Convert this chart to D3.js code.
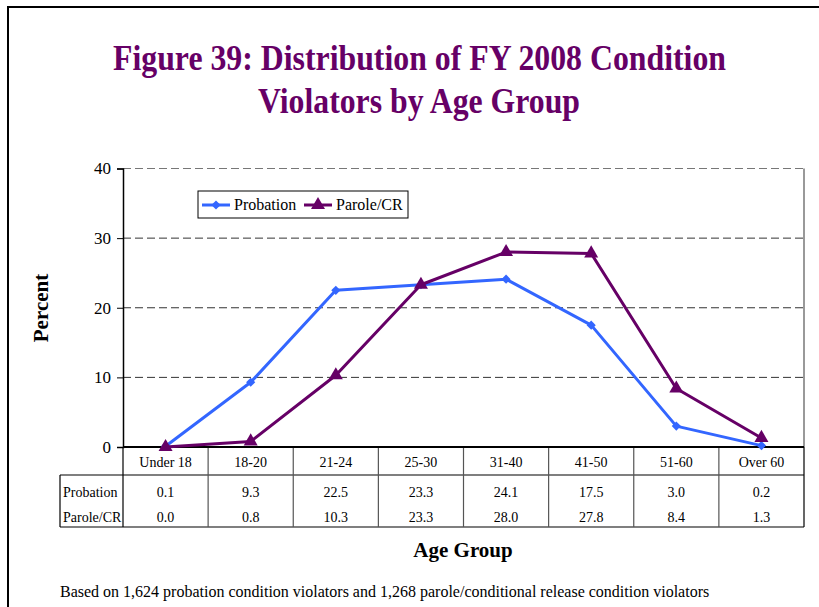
<!DOCTYPE html>
<html>
<head>
<meta charset="utf-8">
<script src="https://cdn.jsdelivr.net/npm/d3@7"></script>
<style>
  body { margin: 0; background: #fff; }
  svg { display: block; font-family: "Liberation Serif", "Times New Roman", serif; }
  svg text { font-family: "Liberation Serif", "Times New Roman", serif; }
</style>
</head>
<body>
<script>
// chart data
var ageGroups = ["Under 18", "18-20", "21-24", "25-30", "31-40", "41-50", "51-60", "Over 60"];
var probation = [0.1, 9.3, 22.5, 23.3, 24.1, 17.5, 3.0, 0.2];
var paroleCR = [0.0, 0.8, 10.3, 23.3, 28.0, 27.8, 8.4, 1.3];
var yTicks = [0, 10, 20, 30, 40];
var seriesNames = ["Probation", "Parole/CR"];

const W = 819, H = 607;
const plot = {left: 123, right: 804, top: 168.5, bottom: 447};
const purple = "#660066", blue = "#3366ff";

var svg = d3.select("body").append("svg")
    .attr("width", W)
    .attr("height", H);

// outer frame (runs off the right and bottom of the picture)
svg.append("rect")
    .attr("x", 8).attr("y", 7)
    .attr("width", 830).attr("height", 640)
    .attr("fill", "none")
    .attr("stroke", "#000")
    .attr("stroke-width", 2);

// title
var title = svg.append("g").attr("fill", purple).attr("font-weight", "bold")
    .attr("font-size", 35).attr("text-anchor", "middle");
title.append("text").attr("x", 419.5).attr("y", 70)
    .attr("textLength", 613).attr("lengthAdjust", "spacingAndGlyphs")
    .text("Figure 39: Distribution of FY 2008 Condition");
title.append("text").attr("x", 419).attr("y", 113)
    .attr("textLength", 322).attr("lengthAdjust", "spacingAndGlyphs")
    .text("Violators by Age Group");

var x = d3.scaleBand().domain(ageGroups).range([plot.left, plot.right]);
var y = d3.scaleLinear().domain([0, 40]).range([plot.bottom, plot.top]);

// gridlines
svg.append("g").selectAll("line")
    .data(yTicks.filter(function(d) { return d > 0; }))
    .enter().append("line")
    .attr("x1", plot.left).attr("x2", plot.right)
    .attr("y1", function(d) { return y(d); })
    .attr("y2", function(d) { return y(d); })
    .attr("stroke", function(d) { return d === 40 ? "#777" : "#333"; })
    .attr("stroke-width", 1)
    .attr("stroke-dasharray", "8,4");

// right border of plot
svg.append("line")
    .attr("x1", plot.right).attr("x2", plot.right)
    .attr("y1", plot.top).attr("y2", plot.bottom)
    .attr("stroke", "#777").attr("stroke-width", 1.5);

// y axis
var yAxis = svg.append("g")
    .attr("transform", "translate(" + plot.left + ",0)")
    .call(d3.axisLeft(y).tickValues(yTicks).tickSize(6).tickPadding(6).tickFormat(d3.format("d")));
yAxis.attr("font-family", null);
yAxis.select(".domain").attr("stroke", "#000").attr("stroke-width", 1.5);
yAxis.selectAll(".tick line").attr("stroke", "#000");
yAxis.selectAll("text")
    .attr("font-size", 17).attr("fill", "#000");

svg.append("text")
    .attr("transform", "translate(48,308) rotate(-90)")
    .attr("text-anchor", "middle")
    .attr("font-weight", "bold").attr("font-size", 21)
    .text("Percent");

// data table under the plot
const table = {left: 60, rowTop: 475, bottom: 527};
var tg = svg.append("g").attr("stroke", "#000").attr("stroke-width", 1.2);
tg.append("line").attr("x1", table.left).attr("x2", plot.right)
    .attr("y1", table.rowTop).attr("y2", table.rowTop);
tg.append("line").attr("x1", table.left).attr("x2", plot.right)
    .attr("y1", table.bottom).attr("y2", table.bottom);
tg.append("line").attr("x1", table.left).attr("x2", table.left)
    .attr("y1", table.rowTop).attr("y2", table.bottom);
tg.append("line").attr("x1", plot.right).attr("x2", plot.right)
    .attr("y1", plot.bottom).attr("y2", table.bottom);
tg.selectAll(".sep")
    .data(ageGroups)
    .enter().append("line")
    .attr("class", "sep")
    .attr("x1", function(d) { return x(d); })
    .attr("x2", function(d) { return x(d); })
    .attr("y1", plot.bottom).attr("y2", table.bottom)
    .attr("stroke", function(d, i) { return i === 0 ? "#000" : "#555"; });

// category labels
svg.append("g").selectAll("text")
    .data(ageGroups)
    .enter().append("text")
    .attr("x", function(d) { return x(d) + x.bandwidth() / 2; })
    .attr("y", 467)
    .attr("text-anchor", "middle")
    .attr("font-size", 14)
    .text(function(d) { return d; });

var rows = [probation, paroleCR];
var rowY = [497, 522];
rows.forEach(function(vals, r) {
    svg.append("text")
        .attr("x", 63).attr("y", rowY[r])
        .attr("font-size", 14)
        .text(seriesNames[r]);
    svg.append("g").selectAll("text")
        .data(vals)
        .enter().append("text")
        .attr("x", function(d, i) { return x(ageGroups[i]) + x.bandwidth() / 2; })
        .attr("y", rowY[r])
        .attr("text-anchor", "middle")
        .attr("font-size", 14)
        .text(function(d) { return d3.format(".1f")(d); });
});

// bottom axis line
svg.append("line")
    .attr("x1", plot.left).attr("x2", plot.right)
    .attr("y1", plot.bottom).attr("y2", plot.bottom)
    .attr("stroke", "#000").attr("stroke-width", 2);

// lines
var line = d3.line()
    .x(function(d, i) { return x(ageGroups[i]) + x.bandwidth() / 2; })
    .y(function(d) { return y(d); });

var series = [
    {name: seriesNames[0], values: probation, color: blue, symbol: d3.symbolSquare, size: 42, rot: 45},
    {name: seriesNames[1], values: paroleCR, color: purple, symbol: d3.symbolTriangle, size: 85, rot: 0}
];

series.forEach(function(s) {
    svg.append("path")
        .attr("d", line(s.values))
        .attr("fill", "none")
        .attr("stroke", s.color)
        .attr("stroke-width", 3)
        .attr("stroke-linejoin", "round");
    svg.append("g").selectAll("path")
        .data(s.values)
        .enter().append("path")
        .attr("transform", function(d, i) {
            return "translate(" + (x(ageGroups[i]) + x.bandwidth() / 2) + "," + y(d) + ") rotate(" + s.rot + ")";
        })
        .attr("d", d3.symbol().type(s.symbol).size(s.size))
        .attr("fill", s.color);
});

// legend
var lg = svg.append("g");
lg.append("rect")
    .attr("x", 198).attr("y", 191)
    .attr("width", 210).attr("height", 27)
    .attr("fill", "#fff").attr("stroke", "#000").attr("stroke-width", 1);
var legendX = [202, 304];
series.forEach(function(s, i) {
    var lx = legendX[i];
    lg.append("line")
        .attr("x1", lx).attr("x2", lx + 28)
        .attr("y1", 205).attr("y2", 205)
        .attr("stroke", s.color).attr("stroke-width", 3);
    lg.append("path")
        .attr("transform", "translate(" + (lx + 14) + ",205) rotate(" + s.rot + ")")
        .attr("d", d3.symbol().type(s.symbol).size(s.size))
        .attr("fill", s.color);
    lg.append("text")
        .attr("x", lx + 32).attr("y", 210)
        .attr("font-size", 16)
        .text(s.name);
});

// axis title and note
svg.append("text")
    .attr("x", 463).attr("y", 557)
    .attr("text-anchor", "middle")
    .attr("font-weight", "bold").attr("font-size", 21)
    .text("Age Group");

svg.append("text")
    .attr("x", 60).attr("y", 597)
    .attr("font-size", 16)
    .text("Based on 1,624 probation condition violators and 1,268 parole/conditional release condition violators");
</script>
</body>
</html>
